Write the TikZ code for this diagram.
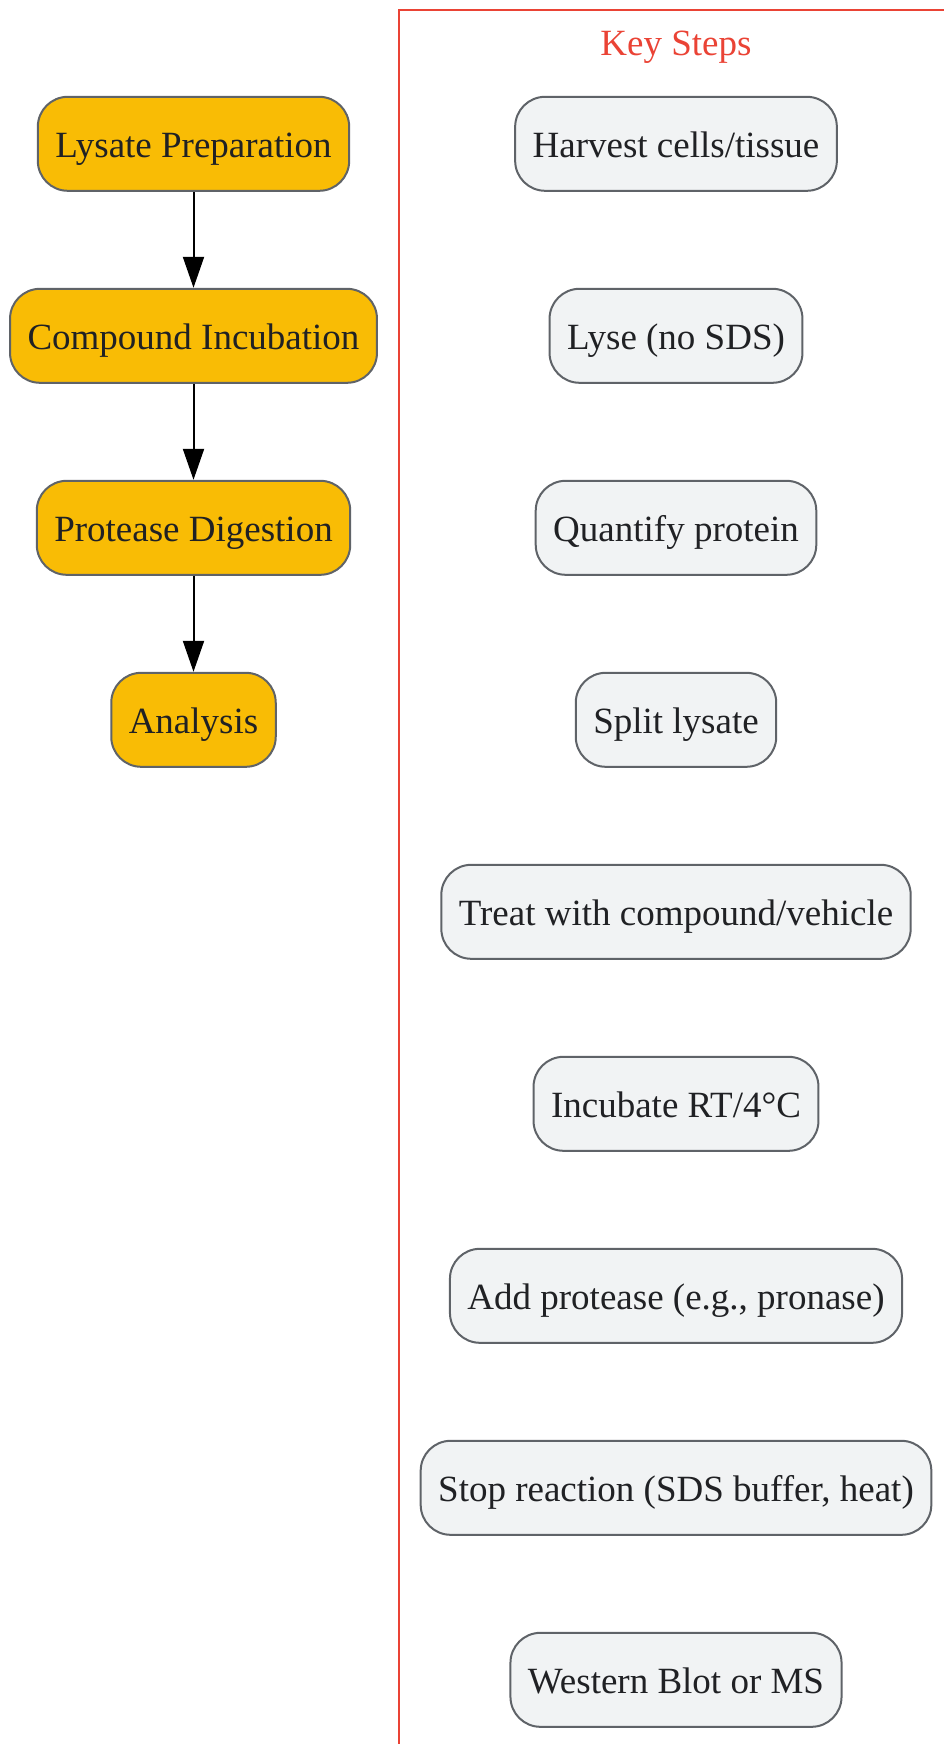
\documentclass[tikz,border=0pt]{standalone}
\usepackage{fontspec}
\setmainfont{Liberation Serif}
\usepackage{tikz}
\usetikzlibrary{positioning,arrows.meta}
\usepackage{xcolor}
\definecolor{phaseyellow}{HTML}{F9BC05}
\definecolor{stepgray}{HTML}{F1F3F4}
\definecolor{edgegray}{HTML}{5F6368}
\definecolor{txtgray}{HTML}{202124}
\definecolor{keyred}{HTML}{EA4335}

\begin{document}
\begin{tikzpicture}[x=1pt,y=1pt,node distance=96pt,every node/.style={font=\fontsize{37}{44}\selectfont,align=center,text height=33pt,text depth=5pt},
    phase/.style={draw=edgegray,line width=2pt,rounded corners=30pt,fill=phaseyellow,text=txtgray,minimum height=94pt,inner xsep=17.5pt},
    keystep/.style={draw=edgegray,line width=2pt,rounded corners=30pt,fill=stepgray,text=txtgray,minimum height=94pt,inner xsep=17.5pt},
    flow/.style={-{Triangle[length=31pt,width=21pt]},line width=2pt,black}]
    \useasboundingbox (0,0) rectangle (943,-1744);
    % key steps frame, cut off at right and bottom
    \draw[keyred,line width=2pt] (399,-10) rectangle (960,-1770);
    \node[text=keyred] (ks) at (676,-42) {Key Steps};
    % main phases
    \node[phase] (lp) at (193.5,-143.8) {Lysate Preparation};
    \node[phase,below=of lp] (ci) {Compound Incubation};
    \node[phase,below=of ci] (pd) {Protease Digestion};
    \node[phase,below=of pd] (an) {Analysis};
    \draw[flow] (lp)--(ci);
    \draw[flow] (ci)--(pd);
    \draw[flow] (pd)--(an);
    % key steps
    \node[keystep] (hc) at (676,-143.8) {Harvest cells/tissue};
    \node[keystep,below=of hc] (ly) {Lyse (no SDS)};
    \node[keystep,below=of ly] (qp) {Quantify protein};
    \node[keystep,below=of qp] (sl) {Split lysate};
    \node[keystep,below=of sl] (tc) {Treat with compound/vehicle};
    \node[keystep,below=of tc] (ir) {Incubate RT/4°C};
    \node[keystep,below=of ir] (ap) {Add protease (e.g., pronase)};
    \node[keystep,below=of ap] (sr) {Stop reaction (SDS buffer, heat)};
    \node[keystep,below=of sr] (wb) {Western Blot or MS};
\end{tikzpicture}
\end{document}
